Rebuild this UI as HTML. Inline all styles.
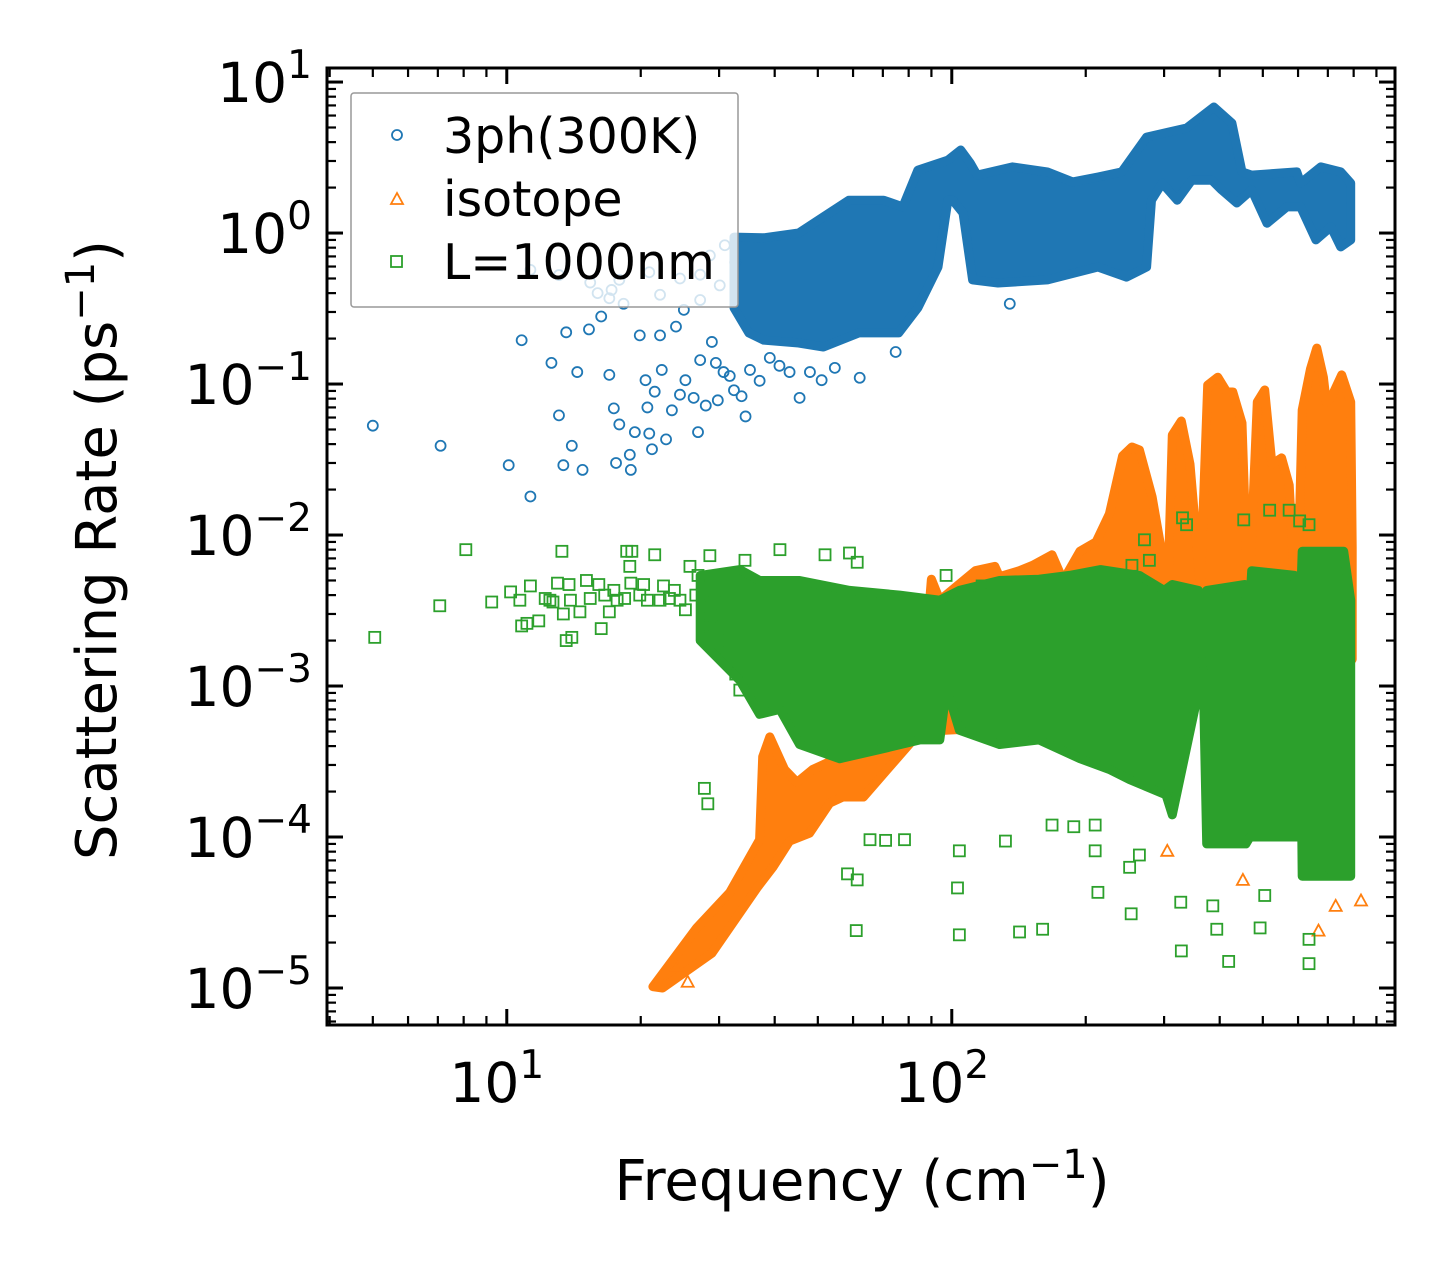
<!DOCTYPE html>
<html><head><meta charset="utf-8"><style>
html,body{margin:0;padding:0;background:#fff;}
svg{display:block;font-family:"DejaVu Sans","Liberation Sans",sans-serif;}
</style></head><body>
<svg id="chart" width="1455" height="1275" viewBox="0 0 1455 1275" xmlns="http://www.w3.org/2000/svg">
<rect width="1455" height="1275" fill="#fff"/>
<g id="plot"></g>
<g id="axes"></g>
<text transform="translate(116,550) rotate(-90)" text-anchor="middle" font-size="56">Scattering Rate (ps<tspan font-size="40" dy="-22">−1</tspan><tspan dy="22">)</tspan></text>
<text x="862" y="1200" text-anchor="middle" font-size="56">Frequency (cm<tspan font-size="40" dy="-22">−1</tspan><tspan dy="22">)</tspan></text>
<g>
<rect x="351" y="93" width="387" height="214" rx="3" fill="#fff" fill-opacity="0.8" stroke="#999" stroke-width="1.5"/>
<circle cx="397" cy="135" r="5" fill="none" stroke="#1f77b4" stroke-width="1.8"/>
<text x="443" y="153" font-size="49">3ph(300K)</text>
<polygon points="397,193 391,204 403,204" fill="none" stroke="#ff7f0e" stroke-width="1.8"/>
<text x="443" y="216" font-size="49">isotope</text>
<rect x="391" y="256" width="11" height="11" fill="none" stroke="#2ca02c" stroke-width="1.8"/>
<text x="443" y="279" font-size="49">L=1000nm</text>
</g>
</svg>
<script>
// ---- data (frequency cm^-1, rate ps^-1) ----
const blueUpper = [[32.4,0.94],[37.8,0.93],[45.3,1.0],[51.5,1.28],[58.7,1.65],[70.3,1.65],[77.6,1.49],[83.9,2.61],[98,3.04],[104.7,3.55],[110,2.91],[114,2.42],[137,2.74],[164,2.54],[187,2.18],[213,2.35],[241,2.54],[274,4.32],[337,4.96],[388,6.83],[426,5.35],[449,2.54],[472,2.42],[596,2.54],[608,2.14],[675,2.74],[748,2.54],[788,2.14]];
const blueLower = [[32.4,0.32],[35.0,0.218],[37.8,0.195],[45.3,0.187],[51.5,0.176],[61.8,0.218],[76,0.218],[83.9,0.32],[93.1,0.596],[98,1.65],[100.5,1.65],[106,1.36],[111.4,0.489],[127,0.467],[164,0.489],[213,0.596],[247,0.511],[274,0.596],[281,1.65],[297,2.14],[321,1.65],[346,2.24],[384,2.24],[404,1.93],[437,1.58],[472,1.93],[511,1.16],[566,1.49],[608,1.49],[658,0.90],[711,1.10],[748,0.81],[788,0.90]];
const blueX = [5.0,7.1,10.1,10.8,11.3,12.6,13.1,13.4,13.6,14.0,14.4,14.8,15.3,16.0,16.3,17.0,17.2,17.4,17.6,17.9,18.3,18.9,19.0,19.4,19.9,20.5,20.7,20.9,21.2,21.5,22.1,22.3,22.8,23.5,24.0,24.5,25.0,25.2,26.3,26.9,27.2,28.0,28.9,29.5,29.8,30.7,31.7,32.4,33.7,34.4,35.2,37.0,39.0,41.0,43.2,45.5,48.0,51.0,54.6,62.1,74.8,135,11.3,13.1,15.4,17.9,20.9,24.5,27.2,30.1,17.0,22.1,27.2,28.6,30.9,32.6];
const blueY = [0.053,0.039,0.029,0.195,0.018,0.138,0.062,0.029,0.22,0.039,0.12,0.027,0.23,0.40,0.28,0.115,0.42,0.069,0.030,0.054,0.34,0.034,0.027,0.048,0.21,0.106,0.070,0.047,0.037,0.089,0.21,0.124,0.043,0.067,0.24,0.085,0.31,0.106,0.081,0.048,0.144,0.072,0.19,0.138,0.078,0.12,0.113,0.091,0.083,0.061,0.124,0.105,0.149,0.132,0.12,0.081,0.12,0.106,0.128,0.11,0.163,0.34,0.57,0.527,0.47,0.49,0.55,0.50,0.53,0.45,0.37,0.39,0.36,0.71,0.83,0.64];

const orangeUpper = [[21.3,1.02e-5],[26.7,2.5e-5],[31.7,4.3e-5],[37.0,9.6e-5],[37.6,3.4e-4],[39.0,4.6e-4],[42.1,2.8e-4],[44.9,2.3e-4],[48.7,2.8e-4],[63.3,4.0e-4],[84.9,6.0e-4],[90,0.0051],[94,0.0037],[113,0.0058],[125,0.0062],[128,0.0053],[142,0.0058],[152,0.0063],[168,0.0074],[178,0.0050],[194,0.0078],[211,0.0090],[226,0.0138],[242,0.0334],[254,0.0383],[264,0.0366],[282,0.0179],[297,0.0074],[305,0.0032],[313,0.0459],[328,0.0569],[343,0.0295],[362,0.0045],[376,0.0985],[396,0.111],[415,0.0885],[428,0.0885],[449,0.0552],[464,0.0030],[486,0.076],[505,0.0913],[524,0.0295],[551,0.0324],[573,0.0214],[596,0.0024],[613,0.0673],[640,0.126],[661,0.173],[684,0.111],[694,0.076],[712,0.081],[752,0.115],[788,0.076],[794,0.0083]];
const orangeLower = [[794,0.0015],[300,0.0015],[292,6e-4],[85,5e-4],[63.3,1.84e-4],[56.9,1.84e-4],[53.2,1.68e-4],[47.9,1.06e-4],[43.2,9.4e-5],[39.6,6.3e-5],[36.5,4.6e-5],[28.9,1.7e-5],[22.4,1.0e-5]];
const orangeX = [305,451,729,667,583,831,21.8,24.0,25.5];
const orangeY = [8.1e-5,5.2e-5,3.5e-5,2.4e-5,6.5e-4,3.8e-5,1.1e-5,1.4e-5,1.1e-5];

const greenUpper = [[27.2,0.0054],[33.4,0.0059],[37.0,0.0050],[45.5,0.0050],[58.9,0.0043],[76.3,0.0040],[94,0.0037],[104,0.0043],[128,0.0050],[157,0.0051],[184,0.0054],[216,0.0059],[264,0.0054],[300,0.0043],[313,0.0047],[358,0.0043],[365,0.0016],[374,0.0043],[456,0.0047],[464,0.0024],[472,0.0058],[589,0.0054],[605,0.0024],[613,0.0078],[760,0.0078],[788,0.0037]];
const greenLower = [[788,5.5e-5],[613,5.5e-5],[605,0.0024],[596,1.0e-4],[468,1.0e-4],[458,9.0e-5],[374,9.0e-5],[367,0.00128],[313,1.4e-4],[303,1.9e-4],[251,2.4e-4],[226,2.8e-4],[194,3.3e-4],[157,4.4e-4],[128,4.1e-4],[104,5.1e-4],[99.2,8.1e-4],[96.6,8.1e-4],[94,4.4e-4],[84.9,4.4e-4],[68.9,3.8e-4],[56,3.3e-4],[45.5,4.1e-4],[41.1,7.0e-4],[37,6.5e-4],[33.4,0.00109],[27.2,0.0020]];
const greenX = [5.05,7.07,8.09,9.25,10.2,10.8,11.1,11.3,11.8,12.5,12.7,13.0,13.3,13.4,13.6,13.8,14.0,14.6,15.1,15.4,16.1,16.3,17.0,17.7,18.6,18.9,19.0,19.9,20.7,21.5,22.1,22.5,23.2,24.5,25.8,26.9,27.8,28.6,29.3,30.4,31.2,31.7,32.7,33.4,27.8,28.3,42.1,17.4,20.3,23.8,25.2,26.6,18.4,16.6,13.9,12.2,10.7,58.3,61.0,61.3,65.5,71.0,78.3,104,103,104,132,142,160,168,188,210,210,213,251,253,264,328,327,386,394,419,493,505,635,635,677,701,19.1,28.6,34.3,41.1,51.9,58.9,61.3,97.1,117,254,271,278,330,337,453,518,573,605,635];
const greenY = [0.0021,0.0034,0.0080,0.0036,0.0042,0.0025,0.0026,0.0046,0.0027,0.0037,0.0036,0.0048,0.0078,0.0030,0.0020,0.0047,0.0021,0.0031,0.0050,0.0038,0.0047,0.0024,0.0031,0.0037,0.0078,0.0062,0.0048,0.0040,0.0037,0.0074,0.0037,0.0046,0.0038,0.0037,0.0062,0.0054,0.0025,0.0034,0.0043,0.0029,0.0015,0.0020,0.0012,0.00094,2.1e-4,1.66e-4,8.1e-4,0.0043,0.0047,0.0043,0.0032,0.0040,0.0038,0.0040,0.0037,0.0038,0.0037,5.7e-5,2.4e-5,5.2e-5,9.6e-5,9.5e-5,9.6e-5,8.1e-5,4.6e-5,2.25e-5,9.4e-5,2.35e-5,2.45e-5,1.2e-4,1.17e-4,1.2e-4,8.1e-5,4.3e-5,6.3e-5,3.1e-5,7.6e-5,1.76e-5,3.7e-5,3.5e-5,2.45e-5,1.5e-5,2.5e-5,4.1e-5,2.1e-5,1.45e-5,6.3e-5,8.9e-5,0.0078,0.0073,0.0068,0.0080,0.0074,0.0076,0.0066,0.0054,0.0046,0.0063,0.0093,0.0068,0.013,0.0117,0.0126,0.0146,0.0146,0.0124,0.0117];

const yTickExps = [-5,-4,-3,-2,-1,0,1];
const yTickLabels = ["−5","−4","−3","−2","−1","0","1"];
const xTickExps = [1,2];
const xTickLabels = ["1","2"];

// ---- scales ----
const X0=327,X1=1395,Y0=68,Y1=1025;
const XL0=0.596,XL1=2.996,YL0=-5.245,YL1=1.093;
function sx(v){return X0+(Math.log10(v)-XL0)/(XL1-XL0)*(X1-X0);}
function sy(v){return Y1-(Math.log10(v)-YL0)/(YL1-YL0)*(Y1-Y0);}

const NS="http://www.w3.org/2000/svg";
const plot=document.getElementById('plot');
const axes=document.getElementById('axes');
function mk(tag,attrs,parent){const e=document.createElementNS(NS,tag);for(const k in attrs)e.setAttribute(k,attrs[k]);parent.appendChild(e);return e;}

const clip=mk('clipPath',{id:'clipP'},plot);
mk('rect',{x:X0,y:Y0,width:X1-X0,height:Y1-Y0},clip);
plot.setAttribute('clip-path','url(#clipP)');

function band(upper,lower,color,name){
  const pts=upper.concat(lower).map(p=>sx(p[0]).toFixed(1)+','+sy(p[1]).toFixed(1)).join(' ');
  const p=mk('polygon',{points:pts,fill:color,stroke:color,'stroke-width':9,'stroke-linejoin':'round'},plot);
  
  
}
function circles(xs,ys){
  for(let i=0;i<xs.length;i++){
    const c=mk('circle',{cx:sx(xs[i]),cy:sy(ys[i]),r:5,fill:'none',stroke:'#1f77b4','stroke-width':1.8},plot);
    
    
  }
}
function tris(xs,ys){
  for(let i=0;i<xs.length;i++){
    const x=sx(xs[i]),y=sy(ys[i]);
    const t=mk('polygon',{points:`${x},${y-6} ${x-6},${y+5} ${x+6},${y+5}`,fill:'none',stroke:'#ff7f0e','stroke-width':1.8},plot);
    
    
  }
}
function squares(xs,ys){
  for(let i=0;i<xs.length;i++){
    const s=mk('rect',{x:sx(xs[i])-5.5,y:sy(ys[i])-5.5,width:11,height:11,fill:'none',stroke:'#2ca02c','stroke-width':1.8},plot);
    
    
  }
}
band(blueUpper,blueLower.slice().reverse(),'#1f77b4','3ph-dense-band');
circles(blueX,blueY);
band(orangeUpper,orangeLower,'#ff7f0e','isotope-dense-band');
tris(orangeX,orangeY);
band(greenUpper,greenLower,'#2ca02c','boundary-dense-band');
squares(greenX,greenY);

// ---- axes ----
const frame=mk('rect',{x:X0,y:Y0,width:X1-X0,height:Y1-Y0,fill:'none',stroke:'#000','stroke-width':3},axes);


function tickLine(x1,y1,x2,y2,w){mk('line',{x1:x1,y1:y1,x2:x2,y2:y2,stroke:'#000','stroke-width':w},axes);}
for(let e=-6;e<=1;e++){
  for(let m=1;m<10;m++){
    const v=m*Math.pow(10,e);
    const l=Math.log10(v); if(l<YL0||l>YL1) continue;
    const y=sy(v), len=(m===1)?16:9, w=(m===1)?3:2.2;
    tickLine(X0,y,X0+len,y,w); tickLine(X1,y,X1-len,y,w);
  }
}
for(let e=0;e<=2;e++){
  for(let m=1;m<10;m++){
    const v=m*Math.pow(10,e);
    const l=Math.log10(v); if(l<XL0||l>XL1) continue;
    const x=sx(v), len=(m===1)?16:9, w=(m===1)?3:2.2;
    tickLine(x,Y1,x,Y1-len,w); tickLine(x,Y0,x,Y0+len,w);
  }
}
yTickExps.forEach((e,i)=>{
  const t=mk('text',{x:312,y:sy(Math.pow(10,e))+20,'text-anchor':'end','font-size':55},axes);
  
  
  t.textContent='10';
  const s=mk('tspan',{'font-size':39,dy:-24},t); s.textContent=yTickLabels[i];
});
xTickExps.forEach((e,i)=>{
  const t=mk('text',{x:sx(Math.pow(10,e))-10,y:1102,'text-anchor':'middle','font-size':55},axes);
  
  
  t.textContent='10';
  const s=mk('tspan',{'font-size':39,dy:-24},t); s.textContent=xTickLabels[i];
});
</script>
</body></html>
